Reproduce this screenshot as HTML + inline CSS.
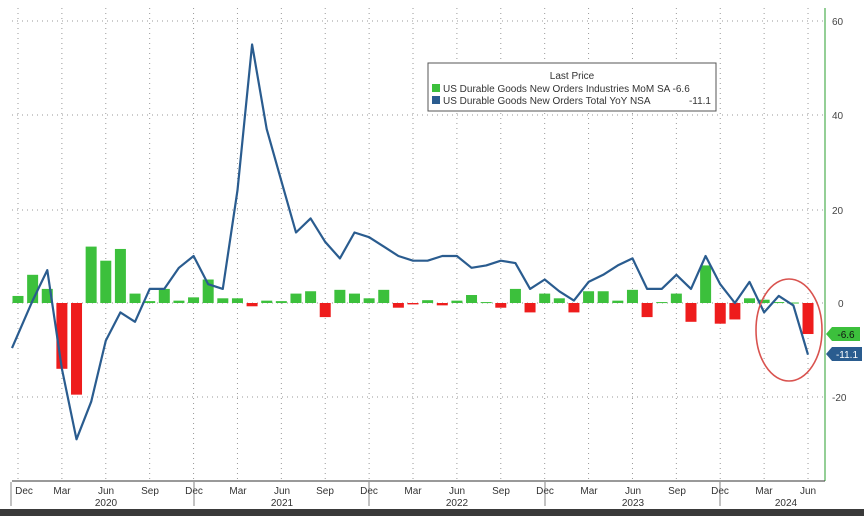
<!DOCTYPE html>
<html><head><meta charset="utf-8"><style>
html,body{margin:0;padding:0;background:#fff}
svg{display:block;font-family:"Liberation Sans",sans-serif}
</style></head><body>
<svg id="c" width="864" height="516" viewBox="0 0 864 516">
<rect width="864" height="516" fill="#fff"/>
<g id="grid" stroke="#999" stroke-width="1" stroke-dasharray="1,4"></g>
<g id="bars"></g>
<polyline id="ln" fill="none" stroke="#2a5c8f" stroke-width="2.2" stroke-linejoin="round"/>
<line x1="825" y1="8" x2="825" y2="481" stroke="#4caf50" stroke-width="1.2"/>
<line x1="12" y1="481" x2="825" y2="481" stroke="#333" stroke-width="1"/>
<g font-size="10" fill="#444">
<text x="832" y="25">60</text><text x="832" y="119">40</text><text x="832" y="214">20</text>
<text x="838" y="307">0</text><text x="832" y="401">-20</text>
</g>
<g font-size="10" fill="#333" text-anchor="middle">
<text x="24" y="494">Dec</text><text x="62" y="494">Mar</text><text x="106" y="494">Jun</text><text x="150" y="494">Sep</text>
<text x="194" y="494">Dec</text><text x="238" y="494">Mar</text><text x="282" y="494">Jun</text><text x="325" y="494">Sep</text>
<text x="369" y="494">Dec</text><text x="413" y="494">Mar</text><text x="457" y="494">Jun</text><text x="501" y="494">Sep</text>
<text x="545" y="494">Dec</text><text x="589" y="494">Mar</text><text x="633" y="494">Jun</text><text x="677" y="494">Sep</text>
<text x="720" y="494">Dec</text><text x="764" y="494">Mar</text><text x="808" y="494">Jun</text>
<text x="106" y="506">2020</text><text x="282" y="506">2021</text><text x="457" y="506">2022</text><text x="633" y="506">2023</text><text x="786" y="506">2024</text>
</g>
<g stroke="#666" stroke-width="0.8">
<line x1="194" y1="482" x2="194" y2="506"/><line x1="369" y1="482" x2="369" y2="506"/>
<line x1="545" y1="482" x2="545" y2="506"/><line x1="720" y1="482" x2="720" y2="506"/>
<line x1="11" y1="482" x2="11" y2="506"/>
</g>
<rect x="0" y="509" width="864" height="7" fill="#3a3a3a"/>
<rect x="428" y="63" width="288" height="48" fill="#fff" stroke="#555" stroke-width="1"/>
<text x="572" y="79" font-size="10" fill="#333" text-anchor="middle">Last Price</text>
<rect x="432" y="84" width="8" height="8" fill="#3cc03c"/>
<rect x="432" y="96" width="8" height="8" fill="#2a5c8f"/>
<text x="443" y="92" font-size="10" fill="#333">US Durable Goods New Orders Industries MoM SA -6.6</text>
<text x="443" y="104" font-size="10" fill="#333">US Durable Goods New Orders Total YoY NSA</text>
<text x="711" y="104" font-size="10" fill="#333" text-anchor="end">-11.1</text>
<polygon points="826,334 832,327 860,327 860,341 832,341" fill="#3cc03c"/>
<text x="846" y="338" font-size="10" fill="#111" text-anchor="middle">-6.6</text>
<polygon points="826,354 832,347 862,347 862,361 832,361" fill="#2a5c8f"/>
<text x="847" y="358" font-size="10" fill="#fff" text-anchor="middle">-11.1</text>
<ellipse cx="789" cy="330" rx="33" ry="51" fill="none" stroke="#d9534f" stroke-width="1.6"/>
</svg>
<script>
var ns="http://www.w3.org/2000/svg";
function X(i){return 18+14.63*i}
function Y(v){return 303-4.7*v}
var g=document.getElementById('grid');
[21,115,210,303,397].forEach(function(y){var l=document.createElementNS(ns,'line');l.setAttribute('x1',12);l.setAttribute('x2',824);l.setAttribute('y1',y);l.setAttribute('y2',y);g.appendChild(l);});
for(var i=0;i<=54;i+=3){var l=document.createElementNS(ns,'line');l.setAttribute('x1',X(i));l.setAttribute('x2',X(i));l.setAttribute('y1',8);l.setAttribute('y2',481);g.appendChild(l);}
var bars=[1.5,6,3,-14,-19.5,12,9,11.5,2,0.4,3,0.5,1.2,5,1,1,-0.7,0.5,0.4,2,2.5,-3,2.8,2,1,2.8,-1,-0.3,0.6,-0.5,0.5,1.7,0.2,-1,3,-2,2,1,-2,2.5,2.5,0.5,2.8,-3,0.2,2,-4,8,-4.4,-3.5,1,0.7,0.2,0.1,-6.6];
var bg=document.getElementById('bars');
bars.forEach(function(v,i){var r=document.createElementNS(ns,'rect');var y0=Y(0),y1=Y(v);r.setAttribute('x',X(i)-5.5);r.setAttribute('width',11);r.setAttribute('y',Math.min(y0,y1));r.setAttribute('height',Math.max(1,Math.abs(y1-y0)));r.setAttribute('fill',v<0?'#ee1c1c':'#3cc03c');bg.appendChild(r);});
var line=[0.5,7,-14,-29,-21,-8,-2,-4,3,3,7.5,10,4,3,24,55,37,26,15,18,13,9.5,15,14,12,10,9,9,10,10,7.5,8,9,8.5,3,5,2.5,0.5,4.5,6,8,9.5,3,3,6,3,10,4,0,4.5,-2,1.5,-0.5,-11];
var pts=["12,"+Y(-9.6)];
line.forEach(function(v,k){pts.push(X(k+1).toFixed(1)+","+Y(v).toFixed(1));});
document.getElementById('ln').setAttribute('points',pts.join(' '));
</script>
</body></html>
